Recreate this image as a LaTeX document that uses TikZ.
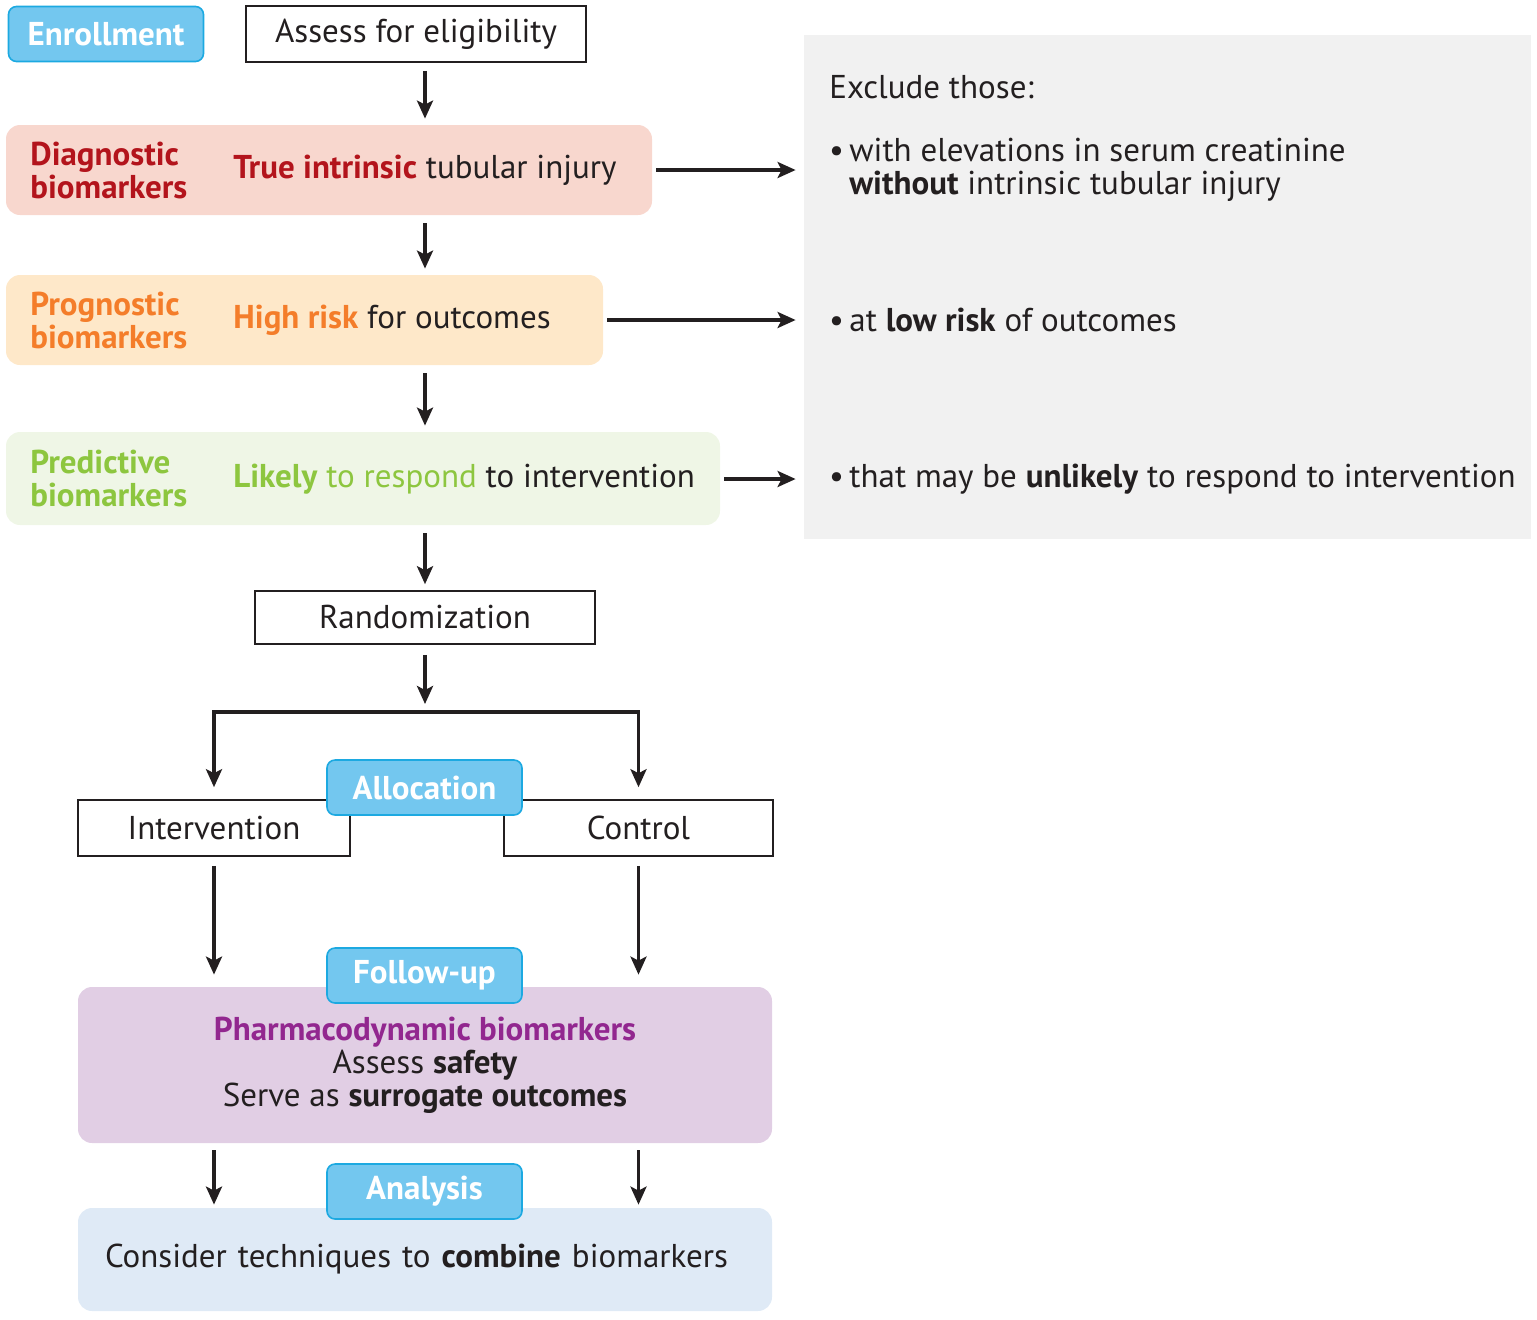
\documentclass[tikz,border=0pt]{standalone}
\usepackage{fontspec}
\setmainfont{PT Sans}
\usetikzlibrary{
  calc,
  positioning,
  arrows.meta
}
\definecolor{tagblue}{HTML}{73C7EF}
\definecolor{tagedge}{HTML}{1CA9E1}
\definecolor{diagfill}{HTML}{F8D7CE}
\definecolor{diagred}{HTML}{B3141C}
\definecolor{progfill}{HTML}{FEE8C9}
\definecolor{progorange}{HTML}{F47D2A}
\definecolor{predfill}{HTML}{EFF6E6}
\definecolor{predgreen}{HTML}{8DC63F}
\definecolor{exclgray}{HTML}{F1F1F1}
\definecolor{pharmfill}{HTML}{E1CEE4}
\definecolor{pharmpurple}{HTML}{92278F}
\definecolor{anafill}{HTML}{DFEAF6}
\definecolor{ink}{HTML}{231F20}
\newcommand{\bodyfont}{\fontsize{16.5}{16.5}\selectfont}
\tikzset{
  tag/.style={fill=tagblue, draw=tagedge, line width=0.8pt, rounded corners=4pt,
    minimum width=97.5pt, minimum height=27.5pt, inner sep=0pt, text=white, font=\bodyfont\bfseries},
  plainbox/.style={draw=ink, line width=0.8pt, fill=white, minimum height=28pt, inner sep=0pt},
  catbox/.style={rounded corners=7pt, inner sep=0pt},
  catlbl/.style={anchor=west, align=left, inner sep=0pt, font=\bodyfont\bfseries},
  cattxt/.style={anchor=west, inner sep=0pt},
  exclitem/.style={anchor=west, align=left, inner sep=0pt},
  wire/.style={line width=1.7pt, draw=ink},
  flow/.style={->, wire, shorten <=4pt, shorten >=3pt},
  side/.style={->, wire, shorten <=2pt, shorten >=4pt}
}

\begin{document}
\begin{tikzpicture}[x=0.5pt, y=-0.5pt, font=\bodyfont, text=ink,
    >={Stealth[length=9pt, width=8pt, inset=2pt]}]
  \useasboundingbox (0,0) rectangle (1537,1319);
  \coordinate (spine) at (425,0);

  % enrollment
  \node[tag] (enroll) at (106,34) {Enrollment};
  \node[plainbox, minimum width=170pt] (assess) at (416,34) {Assess for eligibility};

  % biomarker screening
  \node[catbox, fill=diagfill, minimum width=323pt, minimum height=45pt] (diag) at (329,170) {};
  \node[catlbl, text=diagred] (diaglbl) at (30,170) {Diagnostic\\biomarkers};
  \node[cattxt] (diagtxt) at (233,170) {\textcolor{diagred}{\bfseries True intrinsic} tubular injury};

  \node[catbox, fill=progfill, minimum width=298.5pt, minimum height=45pt] (prog) at (304.5,320) {};
  \node[catlbl, text=progorange] (proglbl) at (30,320) {Prognostic\\biomarkers};
  \node[cattxt] (progtxt) at (233,320) {\textcolor{progorange}{\bfseries High risk} for outcomes};

  \node[catbox, fill=predfill, minimum width=357pt, minimum height=46.5pt] (pred) at (363,478.5) {};
  \node[catlbl, text=predgreen] (predlbl) at (30,478) {Predictive\\biomarkers};
  \node[cattxt] (predtxt) at (233,479) {\textcolor{predgreen}{\textbf{Likely} to respond} to intervention};

  % exclusions
  \node[fill=exclgray, minimum width=363.5pt, minimum height=252pt, inner sep=0pt] (excl) at (1167.5,287) {};
  \node[exclitem] (exclhead) at (829,87) {Exclude those:};
  \node[exclitem] (exdiag) at ($(excl.west |- diag)+(25,0)$)
    {\textbullet\,with elevations in serum creatinine\\\phantom{\textbullet\,}\textbf{without} intrinsic tubular injury};
  \node[exclitem] (exprog) at ($(excl.west |- prog)+(25,0)$) {\textbullet\,at \textbf{low risk} of outcomes};
  \node[exclitem] (expred) at ($(excl.west |- predtxt)+(25,0)$)
    {\textbullet\,that may be \textbf{unlikely} to respond to intervention};

  \draw[side] (diag.east) -- (excl.west |- diag);
  \draw[side] (prog.east) -- (excl.west |- prog);
  \draw[side] (pred.east |- predtxt) -- (excl.west |- predtxt);

  % randomization
  \node[plainbox, minimum width=170pt, minimum height=26.5pt] (random) at (425,617.5) {Randomization};

  \draw[flow] (assess.south -| spine) -- (diag.north -| spine);
  \draw[flow] (diag.south -| spine) -- (prog.north -| spine);
  \draw[flow] (prog.south -| spine) -- (pred.north -| spine);
  \draw[flow] (pred.south -| spine) -- (random.north);

  % allocation
  \coordinate (split) at (425,712);
  \node[plainbox, minimum width=136pt] (interv) at (214,828) {Intervention};
  \node[plainbox, minimum width=134.5pt] (control) at (638.5,828) {Control};
  \draw[flow, shorten <=5pt, shorten >=4pt] (random.south) -- (split);
  \draw[->, wire, shorten >=6pt] (split) -| (interv.north);
  \draw[->, wire, shorten >=6pt] (split) -| (control.north);
  \node[tag] (alloc) at (424.5,787.5) {Allocation};

  % follow-up
  \node[catbox, fill=pharmfill, minimum width=347pt, minimum height=78pt, align=center] (pharm) at (425,1065)
    {\textcolor{pharmpurple}{\bfseries Pharmacodynamic biomarkers}\\Assess \textbf{safety}\\Serve as \textbf{surrogate outcomes}};
  \draw[flow, shorten <=4.5pt, shorten >=6pt] (interv.south) -- (interv.south |- pharm.north);
  \draw[flow, shorten <=4.5pt, shorten >=6pt] (control.south) -- (control.south |- pharm.north);
  \node[tag] (followup) at (424.5,975.5) {Follow-up};

  % analysis
  \node[catbox, fill=anafill, minimum width=347pt, minimum height=51.5pt, text width=320pt, align=left] (ana) at (425,1259.5)
    {Consider techniques to \textbf{combine} biomarkers};
  \draw[flow, shorten <=3.5pt, shorten >=1.5pt] (pharm.south -| interv) -- (ana.north -| interv);
  \draw[flow, shorten <=3.5pt, shorten >=1.5pt] (pharm.south -| control) -- (ana.north -| control);
  \node[tag] (analysis) at (424.5,1191.5) {Analysis};
\end{tikzpicture}
\end{document}
